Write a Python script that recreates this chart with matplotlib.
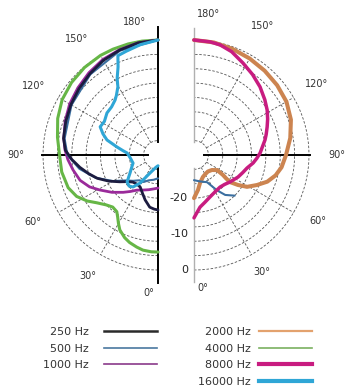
import numpy as np
import matplotlib
matplotlib.use("Agg")
import matplotlib.pyplot as plt
from matplotlib.lines import Line2D

# ---- data: polar response, angle in degrees (0 = bottom), level in dB ----
# left half
t250 = [180, 170, 160, 150, 140, 130, 120, 110, 100, 93, 87, 81, 75, 69, 62, 55, 49, 43,
        36, 29, 22, 16, 9, 4, 0]
db250 = [0, -0.3, -0.9, -1.6, -2.5, -3.3, -4.0, -4.7, -5.3, -6.2, -8.0, -10, -12, -13.9,
         -16.5, -19, -20.7, -21.7, -22, -21.8, -20.5, -19, -17.3, -16.9, -16.7]

t500 = [180, 160, 140, 120, 100, 90, 80, 70, 60, 52, 44, 36, 28, 20, 10, 0]
db500 = [0, -1.1, -2.7, -4.2, -5.6, -6.8, -9.8, -13.5, -17.5, -20.5, -22, -23.3, -23.5,
         -24.5, -25, -25.5]

t1000 = [180, 170, 160, 150, 140, 130, 120, 110, 100, 93, 87, 80, 72, 65, 59, 51, 43, 37,
         31, 23, 15, 7, 0]
db1000 = [0, -0.3, -0.8, -1.3, -2.1, -2.9, -3.6, -4.5, -5.4, -6.1, -6.9, -8.0, -9.2, -11,
          -13.1, -15.5, -17.8, -19.3, -20.6, -21.4, -22, -22.5, -22.8]

t4000 = [180, 172, 165, 157, 150, 140, 130, 120, 110, 100, 90, 80, 70, 63, 57, 52, 46, 41,
         36, 33, 30, 27, 22, 18, 13, 9, 4, 0]
db4000 = [0, 0, 0, 0, 0, -0.2, -0.6, -1.2, -2.3, -3.6, -4.6, -4.8, -5.4, -6.6, -8.5, -10.4,
          -12, -12.8, -12.5, -11.4, -10, -8.6, -7.2, -6.4, -5.7, -5.2, -5, -5]

t16000 = [180, 171, 163, 158, 155.6, 152, 149.5, 145, 142, 136, 129.5, 122, 116, 111, 106.4,
          101, 97, 93.7, 83, 72, 64, 57, 49, 43, 38, 32.7, 24, 10, 0]
db16000 = [0, -0.9, -1.8, -2.2, -5.1, -7.8, -10, -11.8, -12.6, -13.4, -13.6, -14.4, -14.1,
           -15.6, -17.2, -20.4, -22.2, -23.4, -24.3, -24.7, -23.8, -22.7, -20.6, -20.2,
           -20.7, -22.7, -26.5, -28.5, -29]

# right half
t2000 = [180, 170, 160, 150, 140, 130, 120, 110, 100, 90, 82, 76, 70, 64.5, 59, 55.7, 53,
         54, 55.4, 56.9, 50, 40, 30, 22, 12, 6.5, 0]
db2000 = [0, -0.2, -0.6, -1.0, -1.4, -1.8, -2.3, -3.3, -4.8, -6.4, -7.4, -8.6, -10.3, -12.6,
          -14.8, -17.2, -19.5, -21, -22.2, -24.3, -25.5, -26, -25.8, -25.4, -24, -22.2, -20]

t8000 = [180, 172, 166.7, 160, 152, 144, 135.9, 128, 121.6, 116, 111, 106, 102, 97, 91.7,
         87, 82.3, 76.2, 70, 63.4, 58, 53, 46, 39, 30, 20.8, 13, 6.6, 0]
db8000 = [0, -0.2, -0.5, -1.4, -3, -4.3, -5.6, -7, -8.1, -9.2, -10.2, -11.1, -11.8, -12.8,
          -13.6, -14.5, -15.4, -16.8, -17.6, -18.3, -19, -19.5, -20.2, -20.5, -20.2, -19.5,
          -18.5, -17.4, -14.5]

t500r = [45, 38, 33, 25.7, 12, 0]
db500r = [-16, -17.9, -20.3, -23.6, -24.5, -25]

angle_labels = ["0\u00b0", "30\u00b0", "60\u00b0", "90\u00b0", "120\u00b0", "150\u00b0", "180\u00b0"]
angle_ticks = [0, 30, 60, 90, 120, 150, 180]
db_labels = ["-20", "-10", "0"]
db_ticks = [-20, -10, 0]

legend_left = ["250 Hz", "500 Hz", "1000 Hz"]
legend_right = ["2000 Hz", "4000 Hz", "8000 Hz", "16000 Hz"]

C250, C500, C1000 = "#1c1c40", "#3b6fa0", "#9a2a9a"
C2000, C4000, C8000, C16000 = "#cc8450", "#66b646", "#c81c80", "#2fa6d6"

RMIN, RMAX = -32, 0
rings = [-28, -24, -20, -16, -12, -8, -4, 0]

fig = plt.figure(figsize=(3.51, 3.92), dpi=100)
W, H = 351.0, 392.0
R = 115
# full-circle polar axes, only one half is drawn on each
axl = fig.add_axes([(158 - R) / W, (H - 155 - R) / H, 2 * R / W, 2 * R / H], projection="polar")
axr = fig.add_axes([(194 - R) / W, (H - 155 - R) / H, 2 * R / W, 2 * R / H], projection="polar")

for ax, direction in [(axl, -1), (axr, 1)]:
    ax.set_theta_zero_location("S")
    ax.set_theta_direction(direction)
    ax.set_rlim(RMIN, RMAX)
    ax.set_xticks([])
    ax.set_yticks([])
    ax.grid(False)
    for sp in ax.spines.values():
        sp.set_visible(False)
    ax.patch.set_visible(False)
    # dashed rings and spokes
    arc = np.radians(np.linspace(0, 180, 181))
    for r in rings:
        ax.plot(arc, np.full_like(arc, r), color="#555555", lw=0.6,
                ls=(0, (3, 2)), clip_on=False, zorder=1)
    for t in [30, 60, 120, 150]:
        ax.plot([np.radians(t)] * 2, [-28, 0], color="#555555", lw=0.6,
                ls=(0, (3, 2)), clip_on=False, zorder=1)
    # 90 degree axis line
    ax.plot([np.radians(90)] * 2, [-29.3, 0.3], color="black", lw=1.4,
            clip_on=False, zorder=2)

# vertical axis lines
for t in [0, 180]:
    axl.plot([np.radians(t)] * 2, [-28.5, 3.6], color="black", lw=1.4,
             clip_on=False, zorder=2)
    axr.plot([np.radians(t)] * 2, [-28.5, 3.3], color="#b0b0b0", lw=1.0,
             clip_on=False, zorder=2)


def curve(ax, t, db, color, lw, z):
    ax.plot(np.radians(t), db, color=color, lw=lw, clip_on=False, zorder=z,
            solid_capstyle="round", solid_joinstyle="round")


curve(axl, t4000, db4000, C4000, 2.2, 3)
curve(axl, t1000, db1000, C1000, 2.0, 4)
curve(axl, t500, db500, C500, 1.5, 5)
curve(axl, t250, db250, C250, 2.0, 6)
curve(axl, t16000, db16000, C16000, 2.2, 7)

curve(axr, t2000, db2000, C2000, 2.9, 3)
curve(axr, t500r, db500r, C500, 1.5, 4)
curve(axr, t8000, db8000, C8000, 2.5, 5)

# angle labels
lab_left = {0: (4, 6.5), 30: (30, 7.0), 60: (62, 7.5), 90: (90, 7.5),
            120: (119, 7.5), 150: (145, 7.5), 180: (170, 5.5)}
lab_right = {0: (4, 5.0), 30: (30, 5.5), 60: (62, 7.0), 90: (90, 7.8),
             120: (120, 7.5), 150: (152, 8.5), 180: (174, 7.5)}
for ax, pos in [(axl, lab_left), (axr, lab_right)]:
    for a, txt in zip(angle_ticks, angle_labels):
        t, r = pos[a]
        ax.text(np.radians(t), r, txt, ha="center", va="center", fontsize=7,
                color="#333333", clip_on=False)

# radial level labels between the halves
for v, txt in zip(db_ticks, db_labels):
    axl.annotate(txt, xy=(0, v), xytext=(30, 0), textcoords="offset pixels",
                 ha="right", va="center", fontsize=8, color="#222222",
                 annotation_clip=False)

# legends
h_left = [Line2D([], [], color="#2a2a2a", lw=1.8),
          Line2D([], [], color="#4a78a0", lw=1.2),
          Line2D([], [], color="#8a3a8a", lw=1.2)]
h_right = [Line2D([], [], color="#e3a26e", lw=1.6),
           Line2D([], [], color="#7ab060", lw=1.2),
           Line2D([], [], color=C8000, lw=3.0),
           Line2D([], [], color=C16000, lw=3.0)]
common = dict(markerfirst=False, frameon=False, fontsize=8, handlelength=4.8,
              labelspacing=0.6, borderpad=0, borderaxespad=0, loc="upper right",
              labelcolor="#333333")
fig.legend(h_left, legend_left, bbox_to_anchor=(157 / W, 1 - 327 / H),
           handletextpad=1.3, **common)
fig.legend(h_right, legend_right, bbox_to_anchor=(312 / W, 1 - 327 / H),
           handletextpad=0.7, **common)

fig.savefig("out.png", dpi=100)
